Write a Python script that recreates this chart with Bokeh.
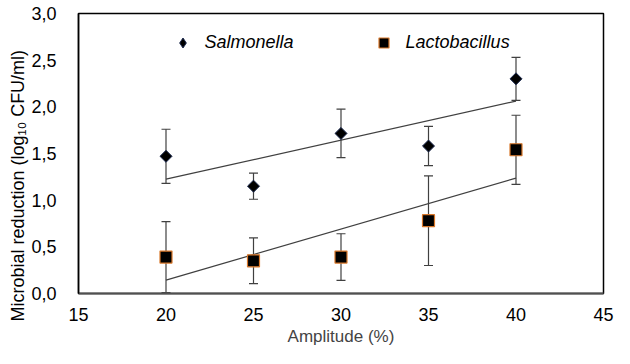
import math
import numpy as np
from bokeh.plotting import figure
from bokeh.models import (ColumnDataSource, Range1d, FixedTicker, CustomJSTickFormatter,
                          Whisker, TeeHead, Legend, LegendItem, Title)
from bokeh.embed import file_html
from bokeh.resources import INLINE

# ---- data ----
amplitude = [20, 25, 30, 35, 40]
salmonella = [1.47, 1.15, 1.715, 1.58, 2.30]
salmonella_err = [0.29, 0.14, 0.26, 0.21, 0.23]
lactobacillus = [0.39, 0.35, 0.39, 0.78, 1.54]
lactobacillus_err = [0.38, 0.245, 0.25, 0.48, 0.37]
x_ticks = [15, 20, 25, 30, 35, 40, 45]
y_ticks = [0.0, 0.5, 1.0, 1.5, 2.0, 2.5, 3.0]
series_names = ["Salmonella", "Lactobacillus"]
x_title = "Amplitude (%)"
y_title = "Microbial reduction (log\u2081\u2080 CFU/ml)"

FONT = "Liberation Sans"
GRAY = "#404040"
NAVY = "#1c2a50"

p = figure(width=614, height=348, x_range=Range1d(15, 45), y_range=Range1d(0, 3),
           output_backend="svg", toolbar_location=None,
           min_border_left=78, min_border_right=11, min_border_top=13, min_border_bottom=54)
p.xgrid.visible = False
p.ygrid.visible = False
p.outline_line_color = "black"
p.outline_line_width = 1.5
p.background_fill_color = "white"
p.border_fill_color = "white"

# axes
for ax in (p.xaxis[0], p.yaxis[0]):
    ax.major_tick_line_color = None
    ax.minor_tick_line_color = None
    ax.major_label_text_font = FONT
    ax.major_label_text_font_size = "18px"
    ax.major_label_text_color = "black"
p.xaxis[0].ticker = FixedTicker(ticks=x_ticks)
p.yaxis[0].ticker = FixedTicker(ticks=y_ticks)
p.yaxis[0].formatter = CustomJSTickFormatter(code="return tick.toFixed(1).replace('.', ',');")
p.xaxis[0].axis_line_color = "#505050"
p.xaxis[0].axis_line_width = 2
p.yaxis[0].axis_line_color = "black"
p.yaxis[0].axis_line_width = 1.5
p.xaxis[0].major_label_standoff = 8
p.yaxis[0].major_label_standoff = 16
p.xaxis[0].axis_label = x_title
p.xaxis[0].axis_label_text_font = FONT
p.xaxis[0].axis_label_text_font_size = "17px"
p.xaxis[0].axis_label_text_font_style = "normal"
p.xaxis[0].axis_label_standoff = 3

# y title: starts slightly below the frame bottom, like the reference
p.add_layout(Title(text=y_title, align="left", offset=-28, vertical_align="middle",
                   text_font=FONT, text_font_size="18px", text_font_style="normal",
                   text_color="black", standoff=0), "left")

# trend lines (least squares fit of the data)
for ys in (salmonella, lactobacillus):
    k, b = np.polyfit(amplitude, ys, 1)
    xs = [min(amplitude), max(amplitude)]
    p.line(xs, [k * x + b for x in xs], line_color=GRAY, line_width=1.2)

# error bars
for ys, es in ((salmonella, salmonella_err), (lactobacillus, lactobacillus_err)):
    src = ColumnDataSource(dict(x=amplitude,
                                upper=[y + e for y, e in zip(ys, es)],
                                lower=[y - e for y, e in zip(ys, es)]))
    w = Whisker(base="x", upper="upper", lower="lower", source=src, dimension="height",
                line_color=GRAY, line_width=1.2,
                upper_head=TeeHead(size=9, line_color=GRAY, line_width=1.2),
                lower_head=TeeHead(size=9, line_color=GRAY, line_width=1.2))
    p.add_layout(w)

# diamond glyph (small, hidden under the rotated squares) used for the legend symbol
r_s_leg = p.scatter(amplitude, salmonella, marker="diamond", size=6,
                    fill_color="black", line_color=NAVY, line_width=1)
r_s = p.scatter(amplitude, salmonella, marker="square", angle=math.pi / 4, size=8.5,
                fill_color="black", line_color=NAVY, line_width=1)
r_l = p.scatter(amplitude, lactobacillus, marker="square", size=12,
                fill_color="black", line_color="#d9782b", line_width=1.2)

legend = Legend(items=[LegendItem(label=series_names[0], renderers=[r_s_leg]),
                       LegendItem(label=series_names[1], renderers=[r_l])],
                orientation="horizontal", location=(91.5, 238.5), padding=0, margin=0,
                spacing=77, glyph_width=25, glyph_height=25, label_standoff=10,
                label_text_font=FONT, label_text_font_size="18px",
                label_text_font_style="italic", label_text_color="black",
                background_fill_alpha=0, border_line_alpha=0)
p.add_layout(legend, "center")

open("out.html", "w").write(file_html(p, INLINE))
